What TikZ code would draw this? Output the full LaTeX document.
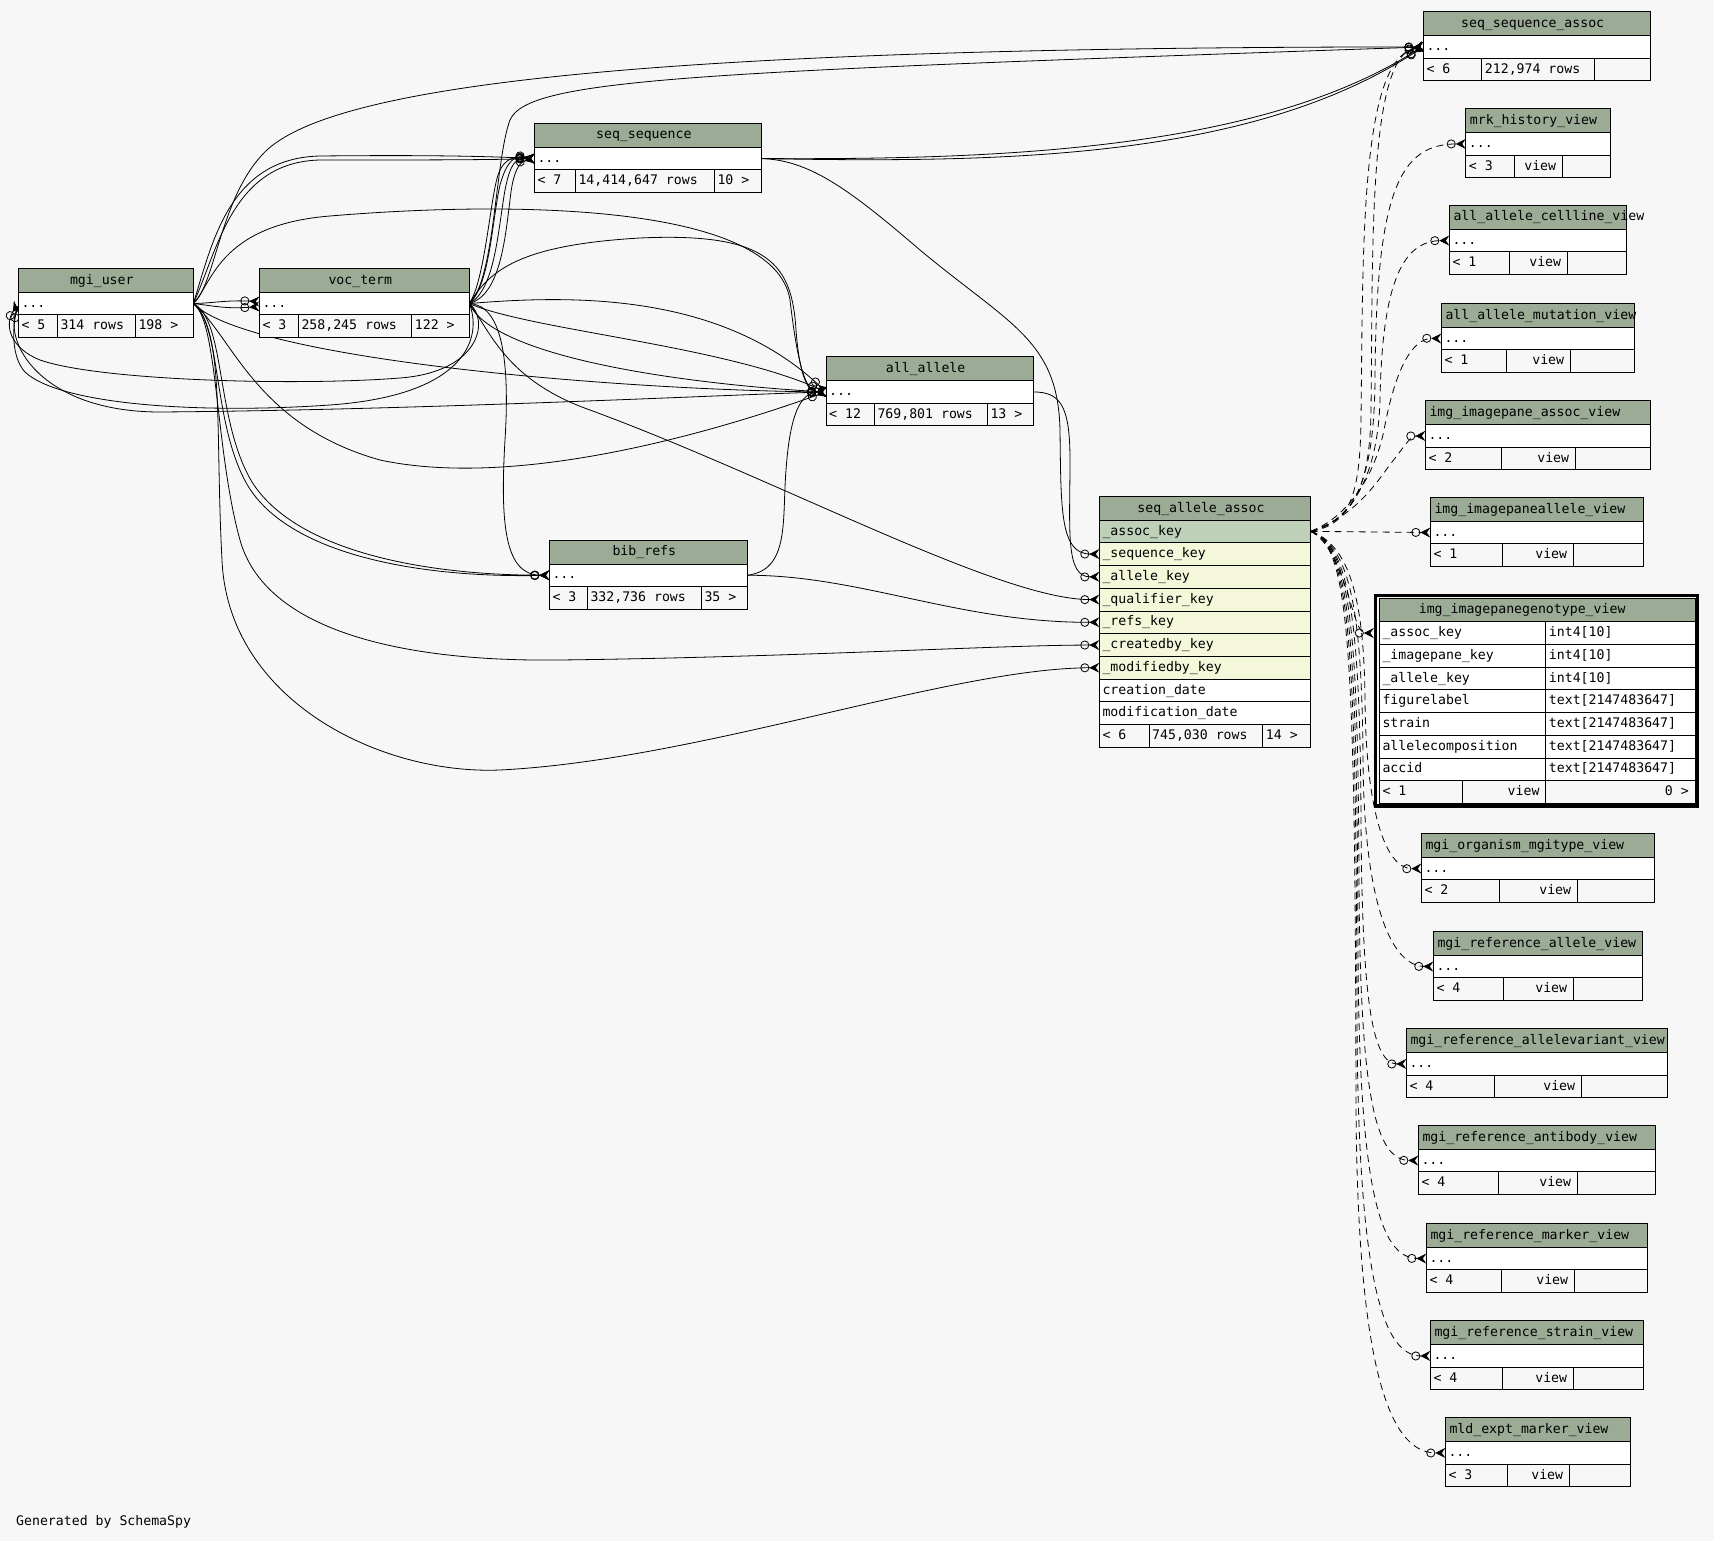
\documentclass[tikz,border=0pt]{standalone}
\usepackage{fontspec}
\newfontfamily\tfontfam{DejaVu Sans Mono}
\newcommand\tfont{\tfontfam\fontsize{13.2}{15}\selectfont}
\usetikzlibrary{arrows.meta}
\pgfdeclarelayer{bglayer}
\pgfdeclarelayer{edgelayer}
\pgfsetlayers{bglayer,edgelayer,main}
\definecolor{bgc}{HTML}{F7F7F7}
\definecolor{hdc}{HTML}{9BAB96}
\definecolor{pkc}{HTML}{BED1B8}
\definecolor{fkc}{HTML}{F4F7DA}
\tikzset{
  cellb/.style={draw=black, line width=0.8pt, inner sep=0pt, outer sep=0pt, anchor=north west},
  hb/.style={cellb, fill=hdc, minimum height=24pt},
  rb/.style={cellb, fill=white, minimum height=22.5pt},
  fb/.style={cellb, fill=bgc, minimum height=22.5pt},
  tx/.style={font=\tfont, inner sep=0pt, text height=9.4pt, text depth=2pt},
  fk/.style={draw=black, line width=0.8pt,
    -{Circle[open,length=9pt,width=9pt]Stealth[reversed,length=10pt,width=10pt,inset=3.5pt]}},
  vk/.style={fk, dash pattern=on 7pt off 5pt},
}
% main table: id xl yt xr name d1 d2 left mid
\newcommand\mtab[9]{%
  \node[hb, minimum width={#4-#2}] (#1) at (#2,#3) {};
  \node[tx] (#1-n) at ([xshift=-4]#1.center) {#5};
  \node[rb, minimum width={#4-#2}] (#1-r) at (#2,#3+24) {};
  \node[tx, anchor=west] (#1-d) at ([xshift=3]#1-r.west) {...};
  \node[fb, minimum width={#6-#2}] (#1-f1) at (#2,#3+46.5) {};
  \node[fb, minimum width={#7-#6}] (#1-f2) at (#6,#3+46.5) {};
  \node[fb, minimum width={#4-#7}] (#1-f3) at (#7,#3+46.5) {};
  \node[tx, anchor=west] (#1-t1) at ([xshift=3]#1-f1.west) {#8};
  \node[tx, anchor=west] (#1-t2) at ([xshift=3]#1-f2.west) {#9};
}
% view table: id xl yt xr name d1 d2 left
\newcommand\vtab[8]{%
  \node[hb, minimum width={#4-#2}] (#1) at (#2,#3) {};
  \node[tx, anchor=west] (#1-n) at ([xshift=4]#1.west) {#5};
  \node[rb, minimum width={#4-#2}] (#1-r) at (#2,#3+24) {};
  \node[tx, anchor=west] (#1-d) at ([xshift=3]#1-r.west) {...};
  \node[fb, minimum width={#6-#2}] (#1-f1) at (#2,#3+46.5) {};
  \node[fb, minimum width={#7-#6}] (#1-f2) at (#6,#3+46.5) {};
  \node[fb, minimum width={#4-#7}] (#1-f3) at (#7,#3+46.5) {};
  \node[tx, anchor=west] (#1-t1) at ([xshift=3]#1-f1.west) {#8};
  \node[tx, anchor=east] (#1-t2) at ([xshift=-6]#1-f2.east) {view};
}
% single row: id xl yt xr fill text
\newcommand\srow[6]{%
  \node[cellb, fill=#5, minimum width={#4-#2}, minimum height=22.7pt] (#1) at (#2,#3) {};
  \node[tx, anchor=west] (#1-t) at ([xshift=3]#1.west) {#6};
}
% genotype row: id yt name type
\newcommand\grow[4]{%
  \node[cellb, fill=white, minimum width=166.4pt, minimum height=22.7pt] (#1) at (1379.3,#2) {};
  \node[cellb, fill=white, minimum width=149.3pt, minimum height=22.7pt] (#1-c) at (1545.7,#2) {};
  \node[tx, anchor=west] (#1-t) at ([xshift=3]#1.west) {#3};
  \node[tx, anchor=west] (#1-u) at ([xshift=3]#1-c.west) {#4};
}
\begin{document}
\begin{tikzpicture}[x=1pt,y=-1pt]
\begin{pgfonlayer}{bglayer}
\fill[bgc] (0,0) rectangle (1714,1541);
\end{pgfonlayer}
\useasboundingbox (0,0) rectangle (1714,1541);

% ---------- main tables ----------
\mtab{mu}{18.3}{268.3}{193.3}{mgi\_user}{57.3}{135.3}{< 5}{314 rows}
\node[tx, anchor=west] (mu-t3) at ([xshift=3]mu-f3.west) {198 >};
\mtab{vt}{259.3}{268.3}{469.3}{voc\_term}{298.3}{411.7}{< 3}{258,245 rows}
\node[tx, anchor=west] (vt-t3) at ([xshift=3]vt-f3.west) {122 >};
\mtab{ss}{534.3}{123.3}{761.3}{seq\_sequence}{575.3}{714.3}{< 7}{14,414,647 rows}
\node[tx, anchor=west] (ss-t3) at ([xshift=3]ss-f3.west) {10 >};
\mtab{aa}{826}{356.7}{1033.3}{all\_allele}{874.3}{987.3}{< 12}{769,801 rows}
\node[tx, anchor=west] (aa-t3) at ([xshift=3]aa-f3.west) {13 >};
\mtab{br}{549.3}{540}{747.3}{bib\_refs}{587.3}{701.3}{< 3}{332,736 rows}
\node[tx, anchor=west] (br-t3) at ([xshift=3]br-f3.west) {35 >};
\mtab{ssa}{1423.3}{11.7}{1650}{seq\_sequence\_assoc}{1481.7}{1594.3}{< 6}{212,974 rows}

% ---------- seq_allele_assoc ----------
\node[hb, minimum width=211.4pt, minimum height=23.3pt] (saa) at (1099.3,496.7) {};
\node[tx] (saa-n) at ([xshift=-4]saa.center) {seq\_allele\_assoc};
\srow{saa-ak}{1099.3}{520}{1310.7}{pkc}{\_assoc\_key}
\srow{saa-seq}{1099.3}{542.7}{1310.7}{fkc}{\_sequence\_key}
\srow{saa-all}{1099.3}{565.5}{1310.7}{fkc}{\_allele\_key}
\srow{saa-qual}{1099.3}{588.2}{1310.7}{fkc}{\_qualifier\_key}
\srow{saa-refs}{1099.3}{610.9}{1310.7}{fkc}{\_refs\_key}
\srow{saa-cby}{1099.3}{633.7}{1310.7}{fkc}{\_createdby\_key}
\srow{saa-mby}{1099.3}{656.4}{1310.7}{fkc}{\_modifiedby\_key}
\srow{saa-cd}{1099.3}{679.1}{1310.7}{white}{creation\_date}
\srow{saa-md}{1099.3}{701.8}{1310.7}{white}{modification\_date}
\srow{saa-f1}{1099.3}{724.6}{1149}{bgc}{< 6}
\srow{saa-f2}{1149}{724.6}{1262.7}{bgc}{745,030 rows}
\srow{saa-f3}{1262.7}{724.6}{1310.7}{bgc}{14 >}

% ---------- views ----------
\vtab{mhv}{1465.7}{108.7}{1610.3}{mrk\_history\_view}{1514.3}{1562.3}{< 3}
\vtab{aacv}{1449.3}{205.3}{1626.3}{all\_allele\_cellline\_view}{1509.3}{1567.3}{< 1}
\vtab{aamv}{1441.3}{303.3}{1634.3}{all\_allele\_mutation\_view}{1506.3}{1570.3}{< 1}
\vtab{iiav}{1425.3}{400.7}{1650.3}{img\_imagepane\_assoc\_view}{1501.3}{1575.3}{< 2}
\vtab{iiae}{1430.3}{497.3}{1643.3}{img\_imagepaneallele\_view}{1502.3}{1573.3}{< 1}
\vtab{mom}{1421.3}{833.3}{1654.3}{mgi\_organism\_mgitype\_view}{1499.3}{1577.3}{< 2}
\vtab{mra}{1433.3}{931.3}{1642.3}{mgi\_reference\_allele\_view}{1503.3}{1573.3}{< 4}
\vtab{mrav}{1406.3}{1028.7}{1667.3}{mgi\_reference\_allelevariant\_view}{1494.3}{1581.3}{< 4}
\vtab{mrab}{1418.3}{1125.3}{1655.3}{mgi\_reference\_antibody\_view}{1498.3}{1577.3}{< 4}
\vtab{mrm}{1426.3}{1223.3}{1647.3}{mgi\_reference\_marker\_view}{1501.3}{1574.3}{< 4}
\vtab{mrs}{1430.3}{1320.7}{1643.3}{mgi\_reference\_strain\_view}{1502.3}{1573.3}{< 4}
\vtab{mld}{1445.3}{1417.7}{1630.3}{mld\_expt\_marker\_view}{1507.3}{1569.3}{< 3}

% ---------- img_imagepanegenotype_view ----------
\node[hb, minimum width=315.7pt, minimum height=23.4pt] (igv) at (1379.3,598.3) {};
\node[tx] (igv-n) at ([xshift=-15]igv.center) {img\_imagepanegenotype\_view};
\grow{igv-ak}{621.7}{\_assoc\_key}{int4[10]}
\grow{igv-ip}{644.4}{\_imagepane\_key}{int4[10]}
\grow{igv-al}{667.1}{\_allele\_key}{int4[10]}
\grow{igv-fl}{689.8}{figurelabel}{text[2147483647]}
\grow{igv-st}{712.5}{strain}{text[2147483647]}
\grow{igv-ac}{735.2}{allelecomposition}{text[2147483647]}
\grow{igv-id}{757.9}{accid}{text[2147483647]}
\node[cellb, fill=bgc, minimum width=83pt, minimum height=22.7pt] (igv-f1) at (1379.3,780.6) {};
\node[cellb, fill=bgc, minimum width=83.4pt, minimum height=22.7pt] (igv-f2) at (1462.3,780.6) {};
\node[cellb, fill=bgc, minimum width=149.3pt, minimum height=22.7pt] (igv-f3) at (1545.7,780.6) {};
\node[tx, anchor=west] (igv-t1) at ([xshift=3]igv-f1.west) {< 1};
\node[tx, anchor=east] (igv-t2) at ([xshift=-6]igv-f2.east) {view};
\node[tx, anchor=east] (igv-t3) at ([xshift=-6]igv-f3.east) {0 >};
\node[draw=black, line width=3.5pt, inner sep=0pt, outer sep=0pt, anchor=north west,
      minimum width=322pt, minimum height=210.5pt] (igv-fr) at (1375.5,595.5) {};

\node[tx, anchor=west] (gen) at (16,1522) {Generated by SchemaSpy};

% ---------- connectors ----------
\begin{pgfonlayer}{edgelayer}
% to seq_allele_assoc
\draw[fk] (ss-r.east) .. controls (810,160) and (850,190) .. (920,250) .. controls (1010,325) and (1058,340) .. (1060,430) .. controls (1061,510) and (1060,554) .. (saa-seq.west);
\draw[fk] (aa-r.east) .. controls (1060,392) and (1070,405) .. (1070,460) .. controls (1070,530) and (1065,577) .. (saa-all.west);
\draw[fk] (vt-r.east) .. controls (490,330) and (505,380) .. (590,410) .. controls (780,480) and (1000,600) .. (saa-qual.west);
\draw[fk] (br-r.east) .. controls (860,575) and (960,623) .. (saa-refs.west);
\draw[fk] (mu-r.east) .. controls (218,320) and (215,450) .. (240,540) .. controls (265,630) and (400,662) .. (560,660) .. controls (800,657) and (1000,645) .. (saa-cby.west);
\draw[fk] (mu-r.east) .. controls (225,330) and (215,430) .. (222,560) .. controls (228,700) and (380,775) .. (500,770) .. controls (700,760) and (950,668) .. (saa-mby.west);
% to seq_sequence_assoc
\draw[fk] (ss-r.east) .. controls (1000,163) and (1250,160) .. (ssa-r.west);
\draw[fk] (ss-r.east) .. controls (1000,160) and (1260,150) .. ([yshift=1]ssa-r.west);
\draw[fk] (mu-r.east) .. controls (215,285) and (220,200) .. (262,155) .. controls (320,90) and (600,47) .. (ssa-r.west);
\draw[fk] (vt-r.east) .. controls (495,280) and (495,160) .. (510,120) .. controls (528,78) and (700,72) .. (ssa-r.west);
% to seq_sequence
\draw[fk] (mu-r.east) .. controls (212,245) and (228,158) .. (320,156) .. controls (420,155) and (480,156) .. (ss-r.west);
\draw[fk] (mu-r.east) .. controls (218,250) and (232,162) .. (320,160) .. controls (420,160) and (480,160) .. (ss-r.west);
\draw[fk] (vt-r.east) .. controls (495,290) and (498,230) .. (505,190) .. controls (510,165) and (515,158) .. (ss-r.west);
\draw[fk] (vt-r.east) .. controls (490,285) and (492,220) .. (500,185) .. controls (507,160) and (515,155) .. (ss-r.west);
\draw[fk] (vt-r.east) .. controls (500,295) and (505,240) .. (510,200) .. controls (513,170) and (520,162) .. (ss-r.west);
\draw[fk] (vt-r.east) .. controls (485,280) and (490,200) .. (498,175) .. controls (505,155) and (518,157) .. (ss-r.west);
% to voc_term
\draw[fk] (mu-r.east) .. controls (215,303) and (225,300) .. ([yshift=2]vt-r.west);
\draw[fk] (mu-r.east) .. controls (215,306) and (225,309) .. ([yshift=-3]vt-r.west);
% to all_allele
\draw[fk] (mu-r.east) .. controls (212,285) and (218,225) .. (330,216) .. controls (520,200) and (775,205) .. (790,300) .. controls (797,360) and (805,392) .. (aa-r.west);
\draw[fk] (vt-r.east) .. controls (490,270) and (520,245) .. (640,238) .. controls (770,232) and (792,265) .. (796,330) .. controls (799,370) and (806,392) .. (aa-r.west);
\draw[fk] (vt-r.east) .. controls (570,295) and (720,292) .. (aa-r.west);
\draw[fk] (vt-r.east) .. controls (530,330) and (720,345) .. (aa-r.west);
\draw[fk] (vt-r.east) .. controls (495,360) and (700,385) .. (aa-r.west);
\draw[fk] (mu-r.east) .. controls (250,360) and (620,390) .. (aa-r.west);
\draw[fk] (mu-r.east) .. controls (232,335) and (255,425) .. (380,460) .. controls (520,490) and (720,430) .. (aa-r.west);
\draw[fk] (br-r.east) .. controls (790,570) and (782,520) .. (786,470) .. controls (790,415) and (800,393) .. (aa-r.west);
\draw[fk] ([yshift=-3]mu-r.west) .. controls (0,340) and (40,412) .. (160,412) .. controls (420,410) and (720,395) .. (aa-r.west);
% to bib_refs
\draw[fk] (vt-r.east) .. controls (502,305) and (510,360) .. (505,440) .. controls (500,525) and (505,575) .. (br-r.west);
\draw[fk] (mu-r.east) .. controls (226,320) and (215,420) .. (252,482) .. controls (295,550) and (420,575) .. (br-r.west);
\draw[fk] (mu-r.east) .. controls (222,325) and (212,425) .. (248,486) .. controls (290,555) and (420,578) .. (br-r.west);
% to mgi_user
\draw[fk] (vt-r.east) .. controls (490,320) and (480,372) .. (400,378) .. controls (300,386) and (100,381) .. (40,360) .. controls (10,348) and (4,325) .. (mu-r.west);
\draw[fk] (vt-r.east) .. controls (482,335) and (470,395) .. (330,405) .. controls (200,414) and (60,405) .. (25,372) .. controls (12,358) and (12,330) .. (mu-r.west);
% implied (dashed) from seq_allele_assoc._assoc_key
\draw[vk] (saa-ak.east) .. controls (1350,525) and (1360,495) .. (1361,420) .. controls (1363,250) and (1360,60) .. (ssa-r.west);
\draw[vk] (saa-ak.east) .. controls (1352,520) and (1370,490) .. (1371,410) .. controls (1373,250) and (1368,58) .. ([yshift=1]ssa-r.west);
\draw[vk] (saa-ak.east) .. controls (1355,520) and (1374,480) .. (1375,380) .. controls (1376,190) and (1400,144) .. (mhv-r.west);
\draw[vk] (saa-ak.east) .. controls (1355,520) and (1378,470) .. (1380,400) .. controls (1382,290) and (1400,241) .. (aacv-r.west);
\draw[vk] (saa-ak.east) .. controls (1352,515) and (1376,470) .. (1384,430) .. controls (1395,370) and (1412,338) .. (aamv-r.west);
\draw[vk] (saa-ak.east) .. controls (1358,515) and (1378,480) .. (1392,462) .. controls (1404,447) and (1410,436) .. (iiav-r.west);
\draw[vk] (saa-ak.east) -- (iiae-r.west);
\draw[vk] (saa-ak.east) .. controls (1346,550) and (1352,633) .. ([xshift=-5.5]igv-ak.west);
\draw[vk] (saa-ak.east) .. controls (1350,545) and (1364,600) .. (1365,700) .. controls (1366,810) and (1385,869) .. (mom-r.west);
\draw[vk] (saa-ak.east) .. controls (1350,545) and (1362,610) .. (1363,760) .. controls (1364,900) and (1390,966) .. (mra-r.west);
\draw[vk] (saa-ak.east) .. controls (1350,545) and (1360,620) .. (1361,820) .. controls (1362,1000) and (1372,1064) .. (mrav-r.west);
\draw[vk] (saa-ak.east) .. controls (1351,545) and (1358,630) .. (1359,880) .. controls (1360,1100) and (1376,1160) .. (mrab-r.west);
\draw[vk] (saa-ak.east) .. controls (1351,545) and (1357,640) .. (1358,950) .. controls (1359,1190) and (1380,1258) .. (mrm-r.west);
\draw[vk] (saa-ak.east) .. controls (1351,545) and (1356,650) .. (1357,1020) .. controls (1358,1290) and (1385,1356) .. (mrs-r.west);
\draw[vk] (saa-ak.east) .. controls (1351,545) and (1355,660) .. (1356,1100) .. controls (1357,1390) and (1395,1453) .. (mld-r.west);
\end{pgfonlayer}
\end{tikzpicture}
\end{document}
